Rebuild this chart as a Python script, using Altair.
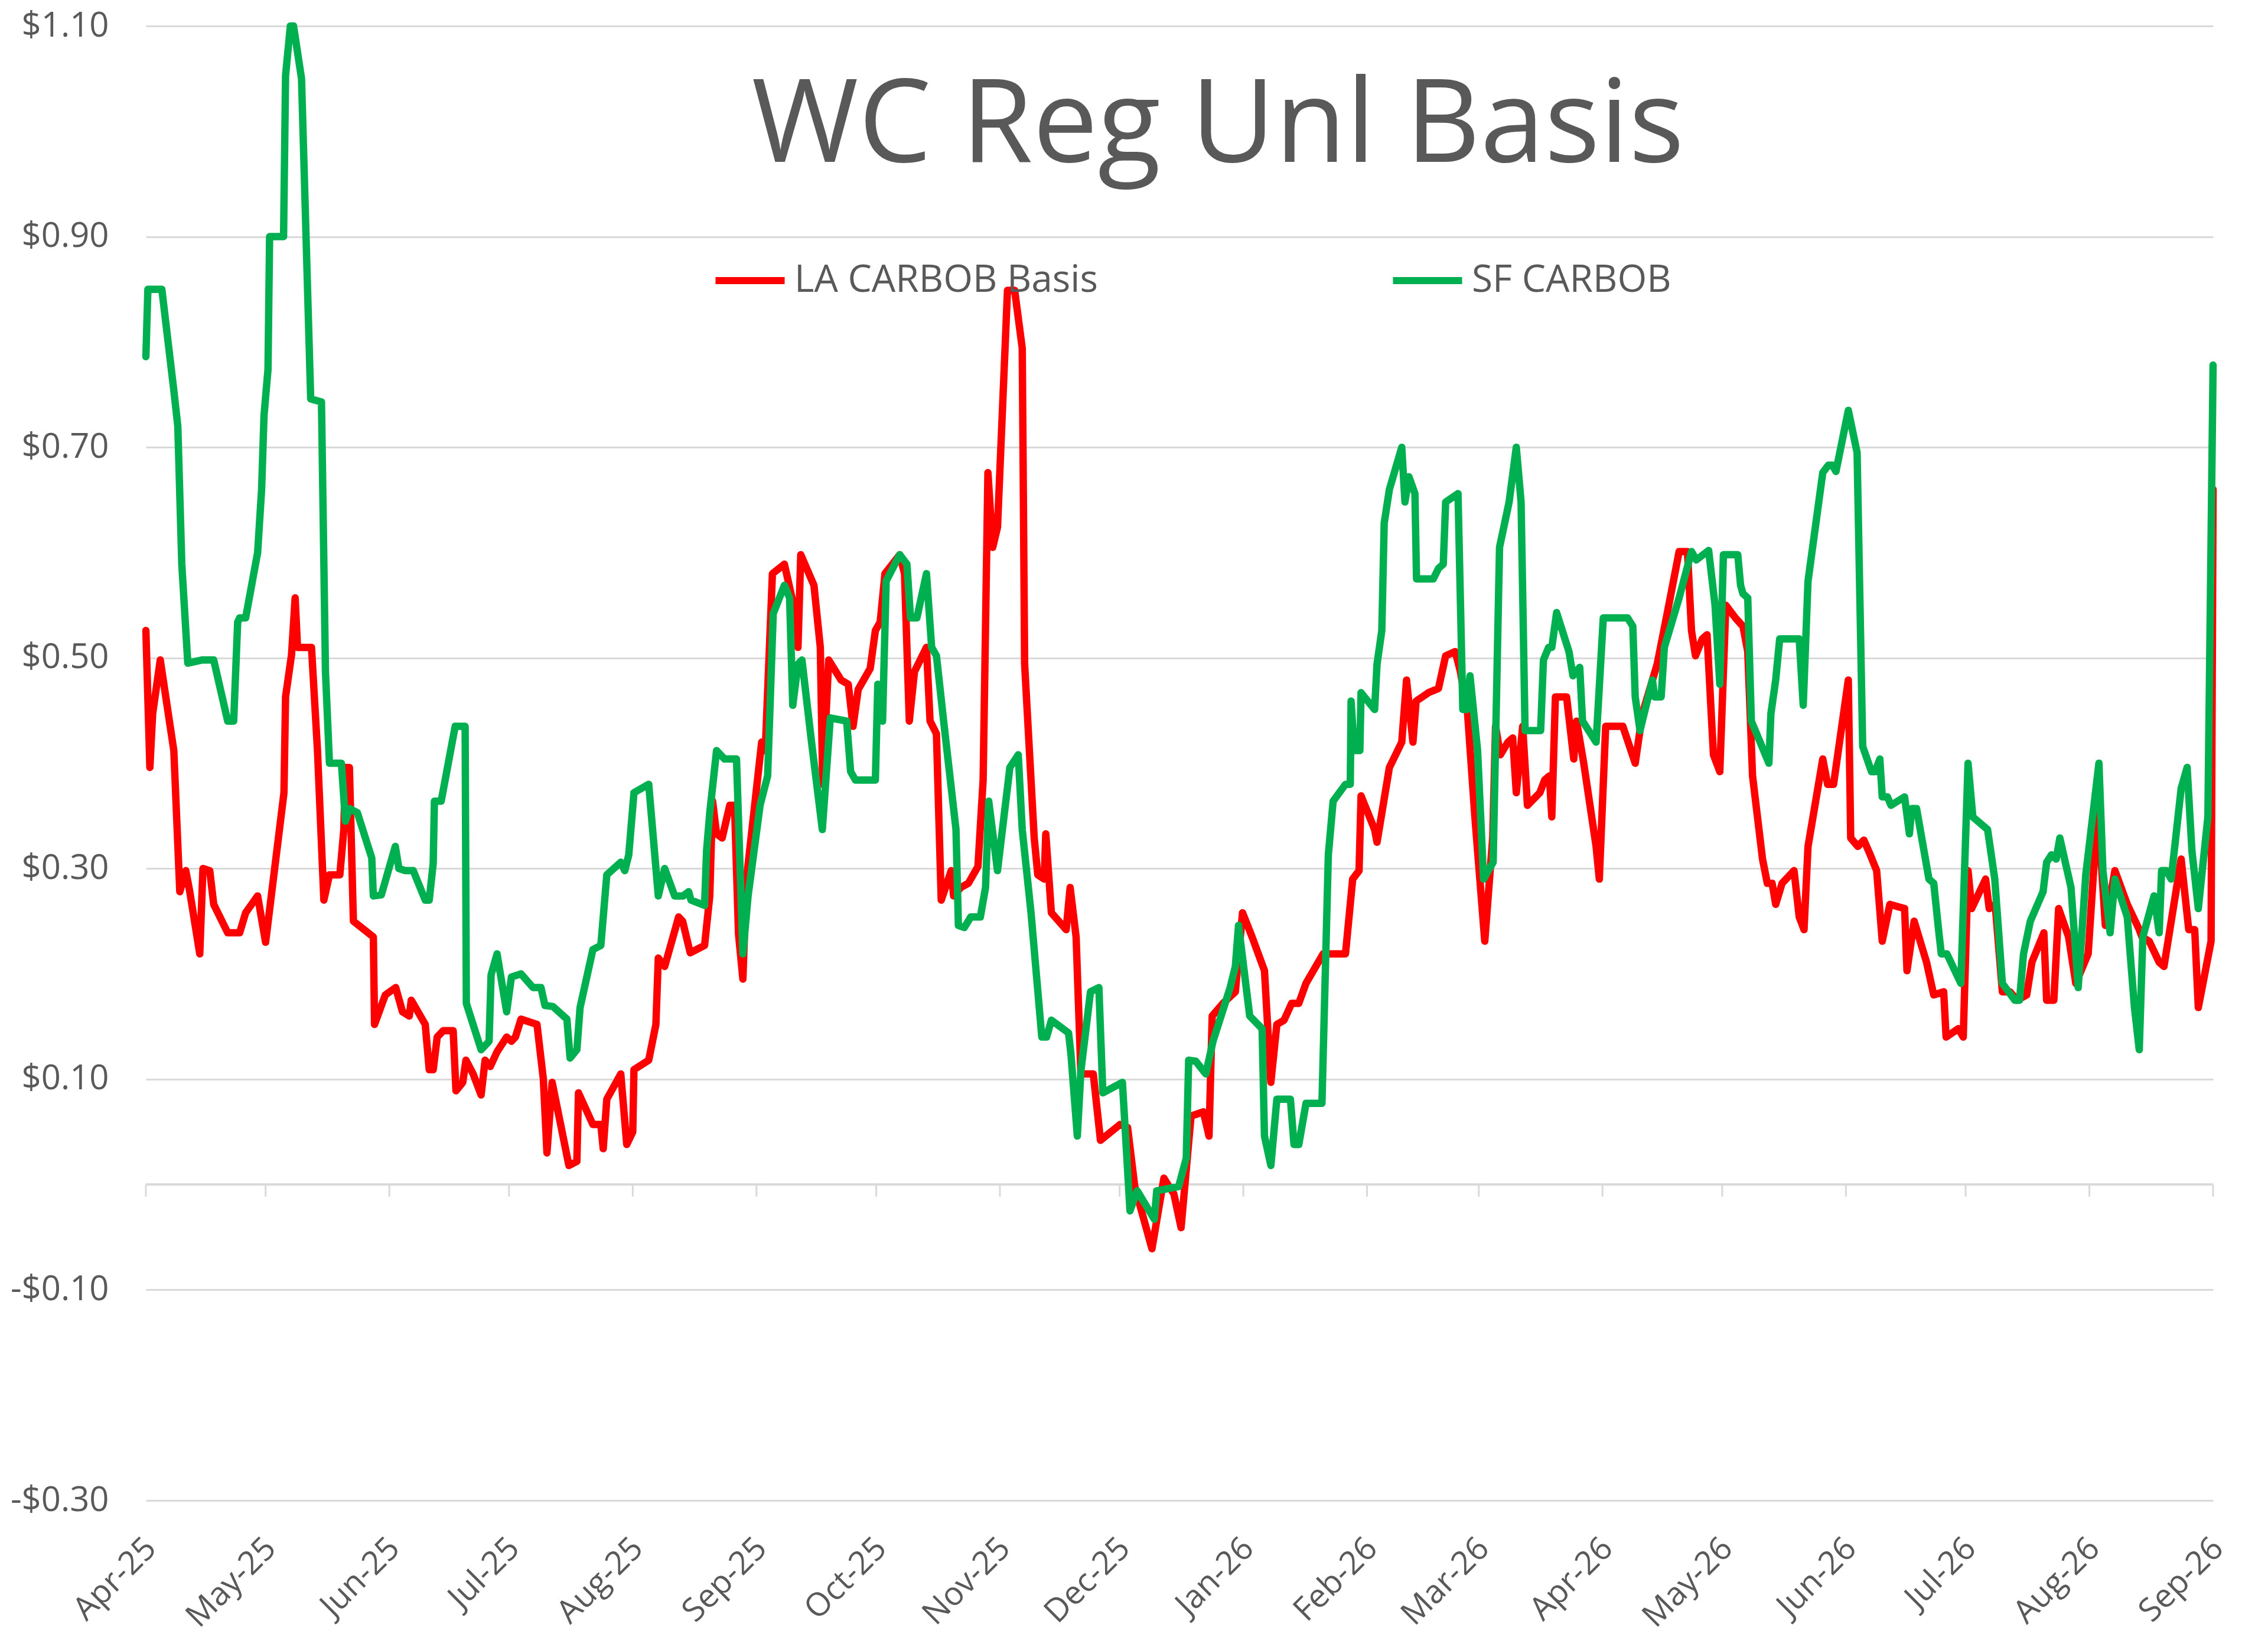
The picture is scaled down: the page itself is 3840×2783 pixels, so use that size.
import altair as alt
import pandas as pd

FONT = "Open Sans"
TEXT = "#595959"
GRID = "#D9D9D9"

START = "2025-04-01"  # day offsets below are counted from this date

la_days = [0, 1, 1.7, 3.6, 7, 8.5, 10, 11, 13.5, 14.3, 16, 17, 20.5, 23.5, 25, 28, 30, 34.6, 35, 36.5,
           37.4, 38, 41.5, 43, 44.6, 46, 48.6, 49.6, 50, 51, 52, 57, 57.3, 60, 62.6, 64.3, 66, 66.5, 70, 71,
           72, 73, 74.5, 77, 77.7, 79.4, 80.2, 82, 84, 85, 86.3, 88, 90.4, 91.6, 92.6, 94, 98, 99.6, 100.5, 101.8,
           106, 108, 108.4, 112, 114, 114.6, 115.5, 119, 120.5, 122, 122.3, 126, 127.8, 128.4, 130, 133.5, 134.5, 136.4, 140, 141.3,
           142, 143, 144.4, 146.3, 147.5, 148.5, 149.6, 150.5, 154.3, 155.2, 157, 160, 161.9, 163.4, 164.1, 167.4, 169, 169.6, 171.1, 174.2,
           176, 177.2, 178.5, 181.5, 182.8, 184, 185.2, 188.9, 190.1, 191.3, 192.6, 195.6, 196.5, 198.1, 199.3, 201.8, 202.4, 204.2, 206.1, 208.5,
           209.8, 211, 212.2, 213.4, 215.9, 217.7, 219.6, 220.2, 222.6, 223.5, 225.1, 225.5, 226.9, 230.6, 231.6, 233.1, 234.3, 237.4, 239.2, 244.1,
           246, 247.8, 252.1, 255.1, 256.4, 257.6, 259.4, 261.9, 265, 266.4, 267.2, 269.9, 273, 274.8, 277.2, 280.3, 281.9, 283.4, 285.2, 287.1,
           288.9, 290.7, 295, 300.6, 302.4, 304, 304.5, 307.9, 308.5, 311.6, 314.7, 315.9, 317.5, 318.3, 321.4, 323.9, 325.7, 328.1, 329.4, 331.2,
           333.0, 335.5, 337.5, 338.2, 339.4, 341.3, 342.5, 343.4, 345, 346.2, 349.3, 350.5, 351.7, 352.3, 353.2, 356, 357.8, 358.5, 360.3, 363.4,
           364.2, 365.8, 370.1, 373.2, 375, 378.7, 381.2, 384.2, 386.3, 387.3, 388.3, 390, 391.2, 392.8, 394.4, 395.9, 398.3, 400.2, 401.4, 402.6,
           405.1, 406.3, 407.5, 408.4, 410, 413, 414.3, 415.5, 416.5, 420.2, 421.4, 422.9, 426.6, 427.2, 429, 430.5, 432.1, 433.7, 435.1, 437,
           440.7, 441.3, 443.1, 446.2, 448, 450.5, 451.1, 454.2, 455.4, 456.6, 457.5, 461, 461.9, 463.4, 465.2, 467.1, 468.9, 471.3, 472.6, 475.6,
           476.3, 478.1, 479.3, 481.8, 483.6, 486.7, 489.1, 491, 493.4, 496.5, 499.5, 500.2, 502, 504.5, 505.7, 510, 511.9, 513.4, 514.3, 517.5,
           518]
la_vals = [0.526, 0.396, 0.447, 0.498, 0.412, 0.278, 0.298, 0.278, 0.219, 0.300, 0.298, 0.266, 0.239, 0.239, 0.258, 0.274, 0.230, 0.372, 0.463, 0.503,
           0.557, 0.510, 0.510, 0.412, 0.270, 0.294, 0.294, 0.337, 0.396, 0.396, 0.250, 0.235, 0.152, 0.180, 0.187, 0.164, 0.160, 0.175, 0.152, 0.109,
           0.109, 0.140, 0.146, 0.146, 0.089, 0.097, 0.118, 0.105, 0.085, 0.118, 0.112, 0.126, 0.140, 0.136, 0.140, 0.157, 0.152, 0.100, 0.030, 0.097,
           0.018, 0.022, 0.087, 0.057, 0.057, 0.034, 0.081, 0.105, 0.038, 0.050, 0.109, 0.118, 0.152, 0.215, 0.207, 0.254, 0.250, 0.220, 0.227, 0.274,
           0.364, 0.333, 0.329, 0.360, 0.360, 0.238, 0.195, 0.290, 0.420, 0.412, 0.580, 0.589, 0.557, 0.510, 0.598, 0.569, 0.510, 0.380, 0.498, 0.479,
           0.475, 0.435, 0.470, 0.490, 0.526, 0.534, 0.580, 0.598, 0.580, 0.440, 0.487, 0.510, 0.440, 0.428, 0.270, 0.298, 0.274, 0.282, 0.286, 0.302,
           0.384, 0.676, 0.605, 0.624, 0.849, 0.849, 0.794, 0.494, 0.329, 0.294, 0.290, 0.333, 0.258, 0.242, 0.282, 0.235, 0.105, 0.105, 0.042, 0.057,
           0.054, -0.002, -0.061, 0.006, -0.002, -0.009, -0.041, 0.065, 0.069, 0.046, 0.160, 0.172, 0.183, 0.258, 0.235, 0.203, 0.097, 0.152, 0.156, 0.172,
           0.172, 0.191, 0.219, 0.219, 0.290, 0.298, 0.369, 0.337, 0.325, 0.396, 0.420, 0.479, 0.420, 0.459, 0.467, 0.471, 0.502, 0.506, 0.487, 0.447,
           0.350, 0.231, 0.330, 0.435, 0.408, 0.420, 0.424, 0.372, 0.435, 0.360, 0.372, 0.384, 0.388, 0.349, 0.463, 0.463, 0.404, 0.440, 0.400, 0.321,
           0.290, 0.435, 0.435, 0.400, 0.447, 0.494, 0.542, 0.601, 0.601, 0.526, 0.502, 0.518, 0.522, 0.408, 0.392, 0.550, 0.538, 0.530, 0.506, 0.388,
           0.309, 0.286, 0.286, 0.266, 0.286, 0.298, 0.254, 0.242, 0.321, 0.404, 0.380, 0.380, 0.479, 0.329, 0.321, 0.327, 0.313, 0.298, 0.231, 0.266,
           0.262, 0.203, 0.250, 0.211, 0.180, 0.183, 0.140, 0.148, 0.140, 0.298, 0.262, 0.290, 0.262, 0.266, 0.183, 0.183, 0.175, 0.180, 0.211, 0.239,
           0.175, 0.175, 0.262, 0.235, 0.191, 0.219, 0.357, 0.246, 0.298, 0.266, 0.242, 0.235, 0.231, 0.211, 0.207, 0.309, 0.242, 0.242, 0.168, 0.231,
           0.660]

sf_days = [0, 0.5, 4, 7, 8, 9, 10.5, 14, 17, 20.5, 22, 23, 23.5, 25, 28, 29, 29.6, 30.6, 31, 34.5,
           35, 36.2, 37.0, 39, 41.3, 44, 45, 46, 49, 50, 51, 53, 56.6, 57, 59, 62.5, 63.4, 65, 67, 70,
           71, 72, 72.3, 74, 77.5, 80, 80.3, 84, 86, 86.5, 88, 90.4, 91.6, 94, 97, 99, 100, 102, 105.5, 106.3,
           108, 108.8, 112, 114, 115.5, 119, 120, 121, 122.3, 126, 128.4, 130, 132.5, 134.6, 136, 136.6, 140, 140.5, 141.3, 143,
           145, 148, 149.6, 150.9, 153.9, 155.8, 157.2, 160, 161.3, 162.1, 163.4, 164.4, 166.8, 169.5, 171.5, 175.6, 176.6, 177.8, 182.8, 183.4,
           184.6, 185.5, 188.9, 190.7, 191.6, 193.2, 195.6, 196.9, 198.1, 199.9, 203, 203.6, 205.1, 206.7, 209.1, 210.4, 211.2, 213.4, 216.5, 218.6,
           219.6, 221.8, 224.5, 225.7, 226.9, 231.2, 231.8, 233.4, 234.3, 236.7, 238.8, 239.8, 244.7, 246.6, 248.4, 252.7, 253.3, 258.8, 260.7, 261.3,
           263.1, 265.6, 267.4, 271.7, 273, 273.8, 276.6, 279.7, 280.3, 281.9, 283.4, 286.8, 287.7, 288.9, 290.7, 294.7, 296.3, 297.5, 300.6, 301.8,
           302.0, 302.8, 304.2, 304.5, 307.9, 308.5, 309.7, 310.3, 311.6, 314.7, 315.5, 316.5, 318.0, 318.4, 322.6, 323.9, 325.1, 325.7, 328.8, 330,
           331, 331.8, 333.7, 335.2, 337.6, 339.2, 341.6, 343.4, 344.6, 345.6, 349.5, 350.2, 351.5, 352.3, 353.5, 356.6, 357.6, 359.3, 360, 363.4,
           365.2, 371.3, 372.6, 373.2, 374.4, 377.5, 378.1, 379.7, 380.5, 384.2, 387.3, 388.5, 391.6, 393.2, 394.4, 395.3, 398.9, 399.6, 400.2, 401.4,
           402.3, 406.7, 407.2, 408.4, 409.4, 414.3, 415.3, 416.5, 420.2, 421.6, 422.6, 423.5, 426.6, 428.8, 430.2, 432.4, 433.3, 434.5, 435.1, 436.4,
           437.3, 440.7, 441.9, 442.5, 443.7, 446.8, 448, 449.3, 449.9, 451.3, 454.8, 456.6, 457.8, 461.5, 463.3, 465.2, 468.3, 469.5, 470.5, 472.2,
           475.4, 476.3, 477.5, 478.7, 479.6, 482.4, 484.2, 486.1, 489.4, 490.4, 492.2, 493.4, 496.5, 498.3, 499.5, 500.4, 503.2, 504.5, 505.1, 506.3,
           507.5, 510, 511.5, 512.7, 514.3, 516.7, 518]
sf_vals = [0.786, 0.850, 0.850, 0.754, 0.720, 0.589, 0.495, 0.498, 0.498, 0.440, 0.440, 0.534, 0.538, 0.538, 0.600, 0.660, 0.730, 0.774, 0.900, 0.900,
           1.053, 1.100, 1.100, 1.050, 0.746, 0.743, 0.487, 0.400, 0.400, 0.345, 0.357, 0.353, 0.310, 0.274, 0.275, 0.321, 0.300, 0.298, 0.298, 0.270,
           0.270, 0.305, 0.364, 0.364, 0.435, 0.435, 0.172, 0.128, 0.136, 0.199, 0.219, 0.164, 0.197, 0.200, 0.187, 0.187, 0.170, 0.169, 0.157, 0.120,
           0.128, 0.168, 0.223, 0.227, 0.294, 0.306, 0.298, 0.313, 0.372, 0.380, 0.274, 0.300, 0.274, 0.274, 0.278, 0.270, 0.265, 0.317, 0.353, 0.412,
           0.404, 0.404, 0.219, 0.274, 0.360, 0.388, 0.542, 0.569, 0.557, 0.455, 0.494, 0.498, 0.420, 0.337, 0.443, 0.440, 0.392, 0.384, 0.384, 0.475,
           0.440, 0.573, 0.598, 0.589, 0.538, 0.538, 0.580, 0.510, 0.502, 0.440, 0.337, 0.246, 0.244, 0.254, 0.254, 0.282, 0.364, 0.298, 0.396, 0.408,
           0.337, 0.258, 0.140, 0.140, 0.156, 0.144, 0.124, 0.046, 0.108, 0.183, 0.187, 0.087, 0.097, -0.025, -0.006, -0.033, -0.006, -0.002, 0.025, 0.118,
           0.117, 0.105, 0.136, 0.187, 0.207, 0.246, 0.160, 0.148, 0.046, 0.018, 0.081, 0.081, 0.038, 0.038, 0.077, 0.077, 0.313, 0.364, 0.380, 0.380,
           0.459, 0.412, 0.412, 0.467, 0.451, 0.494, 0.526, 0.628, 0.660, 0.700, 0.648, 0.672, 0.656, 0.575, 0.575, 0.585, 0.589, 0.648, 0.656, 0.451,
           0.451, 0.483, 0.412, 0.290, 0.306, 0.605, 0.648, 0.700, 0.648, 0.431, 0.431, 0.498, 0.510, 0.510, 0.543, 0.506, 0.483, 0.491, 0.440, 0.420,
           0.538, 0.538, 0.530, 0.463, 0.431, 0.479, 0.463, 0.463, 0.510, 0.557, 0.601, 0.593, 0.602, 0.550, 0.475, 0.598, 0.598, 0.569, 0.561, 0.557,
           0.440, 0.400, 0.447, 0.479, 0.518, 0.518, 0.455, 0.573, 0.676, 0.683, 0.683, 0.677, 0.735, 0.695, 0.416, 0.392, 0.392, 0.404, 0.368, 0.368,
           0.360, 0.368, 0.333, 0.357, 0.357, 0.290, 0.286, 0.239, 0.219, 0.219, 0.191, 0.400, 0.349, 0.337, 0.290, 0.191, 0.175, 0.175, 0.219, 0.250,
           0.278, 0.306, 0.313, 0.309, 0.329, 0.282, 0.187, 0.294, 0.400, 0.298, 0.239, 0.290, 0.254, 0.168, 0.128, 0.235, 0.274, 0.239, 0.298, 0.298,
           0.290, 0.376, 0.396, 0.317, 0.262, 0.349, 0.778]

series_names = ["LA CARBOB Basis", "SF CARBOB"]
series_colors = ["#FF0000", "#00B050"]
month_ticks = [(2025, m) for m in range(4, 13)] + [(2026, m) for m in range(1, 10)]
y_ticks = [-0.3, -0.1, 0.1, 0.3, 0.5, 0.7, 0.9, 1.1]
chart_title = "WC Reg Unl Basis"

start = pd.Timestamp(START)


def frame(days, vals, name):
    return pd.DataFrame({
        "date": [start + pd.to_timedelta(d, unit="D") for d in days],
        "value": vals,
        "series": name,
    })


data = pd.concat([frame(la_days, la_vals, series_names[0]),
                  frame(sf_days, sf_vals, series_names[1])], ignore_index=True)
ticks_df = pd.DataFrame({"date": [pd.Timestamp(year=y, month=m, day=1) for y, m in month_ticks]})

x_scale = alt.Scale(domain=[alt.DateTime(year=2025, month=4, date=1),
                            alt.DateTime(year=2026, month=9, date=1)], nice=False)
y_scale = alt.Scale(domain=[-0.3, 1.1], nice=False, zero=False)

x_axis = alt.Axis(
    values=[alt.DateTime(year=y, month=m, date=1) for y, m in month_ticks],
    format="%b-%y", labelAngle=-45, labelAlign="right", labelBaseline="middle",
    labelFontSize=55, labelFont=FONT, labelColor=TEXT, labelPadding=72, labelOffset=8,
    labelFlush=False, labelOverlap=False, labelLimit=1000, grid=False, domain=False,
    ticks=False, tickSize=0, title=None,
)
y_axis = alt.Axis(
    values=y_ticks,
    labelExpr="(datum.value < 0 ? '-' : '') + '$' + format(abs(datum.value), '.2f')",
    labelFontSize=58, labelFont=FONT, labelColor=TEXT, labelPadding=63, labelLimit=1000,
    grid=True, gridColor=GRID, gridWidth=3, domain=False, ticks=False, tickSize=0,
    title=None,
)

color = alt.Color(
    "series:N",
    scale=alt.Scale(domain=series_names, range=series_colors),
    legend=alt.Legend(
        orient="none", legendX=958, legendY=366, direction="horizontal", title=None,
        symbolType="stroke", symbolSize=13700, symbolStrokeWidth=12,
        labelFontSize=64, labelFont=FONT, labelColor=TEXT, labelLimit=2000,
        labelOffset=10, columnPadding=475,
    ),
)

zero_line = alt.Chart(data).mark_rule(color=GRID, strokeWidth=3).encode(
    y=alt.YDatum(0, axis=y_axis, scale=y_scale),
)

month_marks = alt.Chart(ticks_df).mark_rule(color=GRID, strokeWidth=3).encode(
    x=alt.X("date:T", axis=x_axis, scale=x_scale),
    y=alt.YDatum(0, axis=y_axis, scale=y_scale),
    y2=alt.Y2Datum(-0.0115),
)


def series_layer(name):
    return alt.Chart(data).transform_filter(alt.datum.series == name).mark_line(
        strokeWidth=12.5, strokeJoin="round", strokeCap="round"
    ).encode(
        x=alt.X("date:T", axis=x_axis, scale=x_scale),
        y=alt.Y("value:Q", axis=y_axis, scale=y_scale),
        color=color,
        order="date:T",
    )


chart = alt.layer(
    zero_line, month_marks, series_layer(series_names[0]), series_layer(series_names[1])
).properties(
    width=3500, height=2496,
    autosize=alt.AutoSizeParams(type="none"),
    padding={"left": 239, "top": 36, "right": 85, "bottom": 235},
    title=alt.TitleParams(chart_title, fontSize=196, font=FONT, color=TEXT, fontWeight="normal",
                          anchor="middle", dx=65, offset=-455, baseline="alphabetic"),
    background="white",
).configure_view(stroke=None)

chart.save("out.html", embed_options={"renderer": "svg", "actions": False})
